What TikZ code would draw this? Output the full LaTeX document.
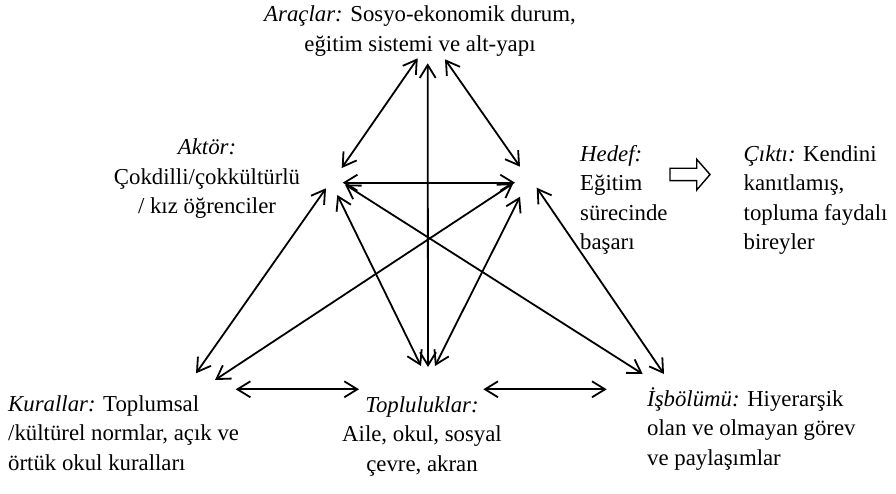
\documentclass[tikz,border=0pt]{standalone}
\usepackage{fontspec}
\setmainfont{Liberation Serif}
\usetikzlibrary{arrows.meta}
\begin{document}
\begin{tikzpicture}[x=1pt,y=-1pt,
  dbl/.style={{Straight Barb[length=13pt,width=16pt]}-{Straight Barb[length=13pt,width=16pt]}, line width=1.8pt, line cap=round},
  lbl/.style={inner sep=0pt, font=\fontsize{22.8}{29.5}\selectfont},
  lblc/.style={lbl, align=center, anchor=base},
  lbll/.style={lbl, align=left, anchor=base west},
  blockarrow/.style={draw, line width=1.4pt, line join=miter}]
\useasboundingbox (0,0) rectangle (896,494);
% texts (anchored at the baseline of the last line)
\node[lblc] (arac) at (420,51.5) {\textit{Araçlar:} Sosyo-ekonomik durum,\\eğitim sistemi ve alt-yapı};
\node[lblc] (aktor) at (207,214) {\textit{Aktör:}\\Çokdilli/çokkültürlü\\/ kız öğrenciler};
\node[lbll] (hedef) at (580,250) {\textit{Hedef:}\\Eğitim\\sürecinde\\başarı};
\node[lbll] (cikti) at (743.5,250) {\textit{Çıktı:} Kendini\\kanıtlamış,\\topluma faydalı\\bireyler};
\node[lbll] (kural) at (8,470) {\textit{Kurallar:} Toplumsal\\/kültürel normlar, açık ve\\örtük okul kuralları};
\node[lblc] (topl) at (422,471) {\textit{Topluluklar:}\\Aile, okul, sosyal\\çevre, akran};
\node[lbll] (isb) at (647,465) {\textit{İşbölümü:} Hiyerarşik\\olan ve olmayan görev\\ve paylaşımlar};
% arrow end points
\coordinate (tA) at (417.7,58.3);
\coordinate (tV) at (427.7,63.3);
\coordinate (tH) at (445,59.3);
\coordinate (aT) at (341.7,168);
\coordinate (aH) at (342.7,182.7);
\coordinate (aK) at (326,188.3);
\coordinate (aI) at (345,184.5);
\coordinate (aP) at (337.3,195);
\coordinate (hT) at (520,166.7);
\coordinate (hA) at (515,182.7);
\coordinate (hK) at (513.3,183.3);
\coordinate (hP) at (520,196.7);
\coordinate (hI) at (536.7,187.7);
\coordinate (kA) at (196,373.3);
\coordinate (kH) at (215,380);
\coordinate (pA) at (421,366);
\coordinate (pV) at (428,367);
\coordinate (pH) at (435,366);
\coordinate (iA) at (642.7,374);
\coordinate (iH) at (664,374);
\coordinate (bl1) at (235.7,389.3);
\coordinate (bl2) at (359,389.3);
\coordinate (br1) at (483.3,389.3);
\coordinate (br2) at (606.7,389.3);
% connectors
\draw[dbl] (tA) -- (aT);
\draw[dbl] (tV) -- (pV);
\draw[dbl] (tH) -- (hT);
\draw[dbl] (aH) -- (hA);
\draw[dbl] (kA) -- (aK);
\draw[dbl] (kH) -- (hK);
\draw[dbl] (aI) -- (iA);
\draw[dbl] (aP) -- (pA);
\draw[dbl] (hP) -- (pH);
\draw[dbl] (hI) -- (iH);
\draw[dbl] (bl1) -- (bl2);
\draw[dbl] (br1) -- (br2);
% block arrow
\draw[blockarrow] (670,168.3) -- (696.7,168.3) -- (696.7,159.3) -- (710,174.5) -- (696.7,190) -- (696.7,180.7) -- (670,180.7) -- cycle;
\end{tikzpicture}
\end{document}
